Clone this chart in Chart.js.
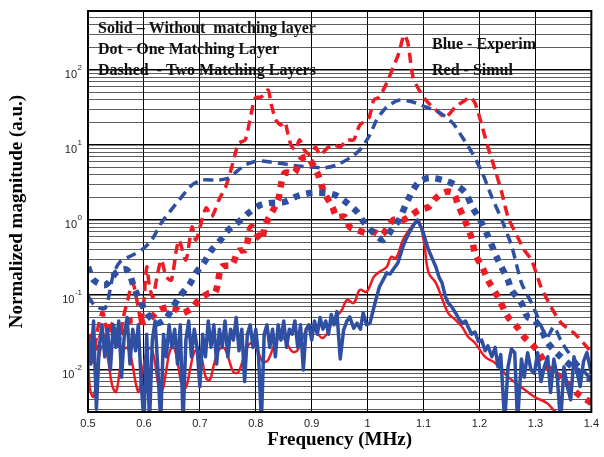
<!DOCTYPE html>
<html>
<head>
<meta charset="utf-8">
<script src="https://cdn.jsdelivr.net/npm/chart.js@4/dist/chart.umd.min.js"></script>
<style>
  html, body { margin: 0; padding: 0; background: #fff; }
</style>
</head>
<body>
<canvas id="spectrum" width="604" height="457"></canvas>
<script>
// ---- data (frequency in MHz, normalized magnitude) ----
const xTicks = [0.5, 0.6, 0.7, 0.8, 0.9, 1.0, 1.1, 1.2, 1.3, 1.4];
const xTickLabels = ['0.5', '0.6', '0.7', '0.8', '0.9', '1', '1.1', '1.2', '1.3', '1.4'];
const yExponents = [-3, -2, -1, 0, 1, 2];
const yLabelExponents = [-2, -1, 0, 1, 2];
const yFactors = [1, 2, 3, 4, 5, 6, 7, 8, 9];

// Solid - without matching layer, experiment (blue)
const blueSolidX = [
    0.500, 0.505, 0.510, 0.515, 0.520, 0.525, 0.530, 0.535, 0.540, 0.545,
    0.550, 0.555, 0.560, 0.565, 0.570, 0.575, 0.580, 0.585, 0.590, 0.595,
    0.600, 0.605, 0.610, 0.615, 0.620, 0.625, 0.630, 0.635, 0.640, 0.645,
    0.650, 0.655, 0.660, 0.665, 0.670, 0.675, 0.680, 0.685, 0.690, 0.695,
    0.700, 0.705, 0.710, 0.715, 0.720, 0.725, 0.730, 0.735, 0.740, 0.745,
    0.750, 0.755, 0.760, 0.765, 0.770, 0.775, 0.780, 0.785, 0.790, 0.795,
    0.800, 0.805, 0.810, 0.815, 0.820, 0.825, 0.830, 0.835, 0.840, 0.845,
    0.850, 0.855, 0.860, 0.865, 0.870, 0.875, 0.880, 0.885, 0.890, 0.895,
    0.900, 0.905, 0.910, 0.915, 0.920, 0.925, 0.930, 0.935, 0.940, 0.945,
    0.951, 0.957, 0.963, 0.968, 0.975, 0.981, 0.987, 0.992, 0.998, 1.004,
    1.010, 1.016, 1.021, 1.028, 1.034, 1.040, 1.045, 1.054, 1.063, 1.068,
    1.074, 1.082, 1.089, 1.098, 1.104, 1.109, 1.116, 1.122, 1.128, 1.133,
    1.139, 1.144, 1.150, 1.157, 1.163, 1.169, 1.175, 1.180, 1.186, 1.192,
    1.198, 1.204, 1.210, 1.215, 1.222, 1.228, 1.233, 1.238, 1.245, 1.251,
    1.257, 1.263, 1.268, 1.275, 1.280, 1.286, 1.292, 1.298, 1.304, 1.310,
    1.316, 1.322, 1.327, 1.333, 1.339, 1.345, 1.351, 1.357, 1.363, 1.369,
    1.375, 1.380, 1.386, 1.392, 1.400
];
const blueSolidY = [
    0.030, 0.012, 0.045, 0.003, 0.020, 0.040, 0.015, 0.035, 0.010, 0.040,
    0.020, 0.045, 0.008, 0.030, 0.050, 0.012, 0.035, 0.018, 0.040, 0.007,
    0.002, 0.030, 0.002, 0.025, 0.045, 0.010, 0.002, 0.030, 0.015, 0.040,
    0.020, 0.035, 0.012, 0.040, 0.002, 0.025, 0.045, 0.015, 0.035, 0.020,
    0.006, 0.030, 0.015, 0.045, 0.020, 0.040, 0.012, 0.035, 0.020, 0.045,
    0.015, 0.035, 0.025, 0.050, 0.018, 0.035, 0.007, 0.030, 0.040, 0.020,
    0.035, 0.015, 0.002, 0.030, 0.040, 0.020, 0.035, 0.015, 0.040, 0.025,
    0.045, 0.020, 0.035, 0.030, 0.045, 0.020, 0.040, 0.010, 0.035, 0.040,
    0.025, 0.045, 0.030, 0.050, 0.035, 0.045, 0.030, 0.055, 0.040, 0.060,
    0.014, 0.034, 0.045, 0.051, 0.036, 0.042, 0.035, 0.058, 0.040, 0.042,
    0.063, 0.094, 0.128, 0.160, 0.197, 0.190, 0.215, 0.267, 0.437, 0.540,
    0.671, 0.850, 1.000, 0.736, 0.520, 0.398, 0.300, 0.236, 0.170, 0.145,
    0.095, 0.078, 0.070, 0.058, 0.048, 0.042, 0.045, 0.037, 0.030, 0.032,
    0.024, 0.025, 0.018, 0.021, 0.015, 0.020, 0.011, 0.016, 0.002, 0.011,
    0.019, 0.017, 0.002, 0.014, 0.008, 0.017, 0.010, 0.009, 0.017, 0.007,
    0.011, 0.015, 0.005, 0.014, 0.008, 0.002, 0.011, 0.006, 0.004, 0.015,
    0.009, 0.006, 0.013, 0.017, 0.009
];

// Solid - without matching layer, simulation (red)
const redSolidX = [
    0.500, 0.504, 0.510, 0.517, 0.522, 0.529, 0.536, 0.543, 0.550, 0.557,
    0.564, 0.571, 0.578, 0.586, 0.591, 0.598, 0.605, 0.612, 0.619, 0.626,
    0.633, 0.640, 0.647, 0.654, 0.661, 0.668, 0.675, 0.683, 0.690, 0.697,
    0.704, 0.711, 0.718, 0.725, 0.734, 0.743, 0.751, 0.760, 0.769, 0.778,
    0.787, 0.795, 0.804, 0.813, 0.822, 0.831, 0.840, 0.848, 0.857, 0.866,
    0.875, 0.884, 0.892, 0.901, 0.910, 0.919, 0.928, 0.937, 0.945, 0.954,
    0.963, 0.975, 0.986, 0.998, 1.011, 1.021, 1.034, 1.042, 1.051, 1.063,
    1.074, 1.086, 1.092, 1.101, 1.109, 1.122, 1.134, 1.144, 1.157, 1.169,
    1.180, 1.192, 1.210, 1.228, 1.251, 1.275, 1.298, 1.321, 1.333, 1.345,
    1.369
];
const redSolidY = [
    0.0136, 0.0054, 0.0044, 0.0100, 0.0185, 0.0215, 0.0136, 0.0063, 0.0051, 0.0100,
    0.0185, 0.0197, 0.0136, 0.0063, 0.0051, 0.0100, 0.0174, 0.0197, 0.0136, 0.0063,
    0.0054, 0.0100, 0.0185, 0.0197, 0.0117, 0.0063, 0.0058, 0.0106, 0.0174, 0.0185,
    0.0136, 0.0078, 0.0074, 0.0117, 0.0185, 0.0197, 0.0145, 0.0094, 0.0094, 0.0145,
    0.0215, 0.0229, 0.0174, 0.0128, 0.0136, 0.0197, 0.0267, 0.0275, 0.0215, 0.0174,
    0.0185, 0.0267, 0.0363, 0.0386, 0.0311, 0.0267, 0.0311, 0.0437, 0.0525, 0.0630,
    0.0858, 0.0780, 0.117, 0.110, 0.174, 0.203, 0.236, 0.321, 0.311, 0.541,
    0.736, 0.940, 0.970, 0.494, 0.197, 0.145, 0.0858, 0.0575, 0.0464, 0.0374,
    0.0275, 0.0229, 0.0149, 0.0124, 0.0081, 0.0059, 0.0044, 0.0036, 0.0029, 0.0025,
    0.0019
];

// Dot - one matching layer, experiment (blue)
const blueDotX = [
    0.500, 0.510, 0.531, 0.552, 0.570, 0.584, 0.605, 0.623, 0.637, 0.646,
    0.663, 0.681, 0.693, 0.707, 0.721, 0.737, 0.751, 0.769, 0.787, 0.808,
    0.827, 0.852, 0.875, 0.898, 0.922, 0.942, 0.963, 0.981, 0.993, 1.011,
    1.028, 1.046, 1.056, 1.072, 1.090, 1.109, 1.134, 1.157, 1.175, 1.187,
    1.201, 1.215, 1.233, 1.251, 1.257, 1.275, 1.286, 1.298, 1.311, 1.321,
    1.342, 1.369, 1.400
];
const blueDotY = [
    0.236, 0.158, 0.136, 0.203, 0.215, 0.117, 0.0575, 0.0423, 0.0464, 0.0575,
    0.094, 0.136, 0.197, 0.267, 0.398, 0.541, 0.736, 0.94, 1.24, 1.58,
    1.69, 1.74, 2.09, 2.29, 2.29, 2.15, 1.69, 1.28, 0.94, 0.671,
    0.541, 0.807, 1.0, 1.85, 3.11, 3.63, 3.41, 2.93, 2.29, 1.49,
    1.0, 0.612, 0.293, 0.158, 0.117, 0.078, 0.0509, 0.0464, 0.0341, 0.0236,
    0.0158, 0.0106, 0.0074
];

// Dot - one matching layer, simulation (red)
const redDotX = [
    0.500, 0.513, 0.531, 0.545, 0.557, 0.570, 0.580, 0.603, 0.628, 0.651,
    0.668, 0.686, 0.698, 0.716, 0.728, 0.739, 0.757, 0.769, 0.781, 0.792,
    0.810, 0.817, 0.840, 0.845, 0.852, 0.869, 0.880, 0.892, 0.910, 0.922,
    0.937, 0.945, 0.959, 0.968, 0.981, 0.998, 1.011, 1.025, 1.046, 1.063,
    1.074, 1.092, 1.109, 1.122, 1.139, 1.153, 1.162, 1.175, 1.187, 1.192,
    1.205, 1.215, 1.233, 1.251, 1.267, 1.280, 1.298, 1.311, 1.321, 1.339,
    1.356, 1.374, 1.392, 1.400
];
const redDotY = [
    0.0293, 0.0197, 0.0341, 0.0374, 0.0251, 0.0423, 0.0464, 0.0437, 0.0631, 0.0692,
    0.0575, 0.0671, 0.0858, 0.106, 0.110, 0.236, 0.251, 0.386, 0.398, 0.807,
    0.541, 0.858, 1.85, 2.93, 4.24, 4.24, 6.31, 6.92, 4.24, 2.36,
    1.49, 1.10, 1.10, 0.807, 0.736, 0.671, 0.692, 0.631, 1.0, 1.0,
    1.10, 1.36, 1.49, 1.96, 2.36, 2.29, 1.58, 0.94, 0.541, 0.352,
    0.236, 0.158, 0.094, 0.0509, 0.0374, 0.0275, 0.0203, 0.0149, 0.0110, 0.00858,
    0.00671, 0.00493, 0.00398, 0.00363
];

// Dashed - two matching layers, experiment (blue)
const blueDashX = [
    0.500, 0.513, 0.531, 0.545, 0.557, 0.580, 0.596, 0.614, 0.631, 0.646,
    0.663, 0.686, 0.704, 0.734, 0.751, 0.769, 0.781, 0.804, 0.827, 0.852,
    0.875, 0.898, 0.922, 0.945, 0.968, 0.986, 1.004, 1.016, 1.034, 1.057,
    1.081, 1.104, 1.127, 1.152, 1.169, 1.187, 1.205, 1.222, 1.240, 1.258,
    1.275, 1.293, 1.304, 1.311, 1.321, 1.333, 1.345, 1.356, 1.377, 1.400
];
const blueDashY = [
    0.097, 0.071, 0.067, 0.185, 0.275, 0.341, 0.398, 0.541, 0.912, 1.28,
    1.85, 2.93, 3.41, 3.41, 3.63, 4.64, 5.41, 6.12, 5.93, 5.58,
    5.25, 5.09, 4.94, 5.41, 6.71, 8.58, 13.6, 21.5, 32.1, 39.8,
    37.4, 32.1, 27.5, 19.7, 12.8, 7.82, 4.24, 2.03, 1.00, 0.437,
    0.145, 0.0782, 0.0509, 0.0374, 0.0275, 0.0374, 0.0251, 0.0185, 0.0117, 0.0074
];

// Dashed - two matching layers, simulation (red)
const redDashX = [
    0.500, 0.508, 0.517, 0.526, 0.536, 0.545, 0.554, 0.563, 0.571, 0.580,
    0.589, 0.596, 0.605, 0.610, 0.616, 0.624, 0.631, 0.640, 0.649, 0.658,
    0.663, 0.675, 0.686, 0.693, 0.711, 0.721, 0.734, 0.746, 0.757, 0.765,
    0.769, 0.781, 0.792, 0.799, 0.810, 0.822, 0.827, 0.836, 0.845, 0.852,
    0.857, 0.863, 0.871, 0.878, 0.887, 0.898, 0.907, 0.915, 0.928, 0.940,
    0.951, 0.963, 0.975, 0.986, 1.002, 1.011, 1.021, 1.034, 1.046, 1.056,
    1.065, 1.072, 1.081, 1.092, 1.104, 1.122, 1.139, 1.157, 1.175, 1.183,
    1.192, 1.205, 1.215, 1.228, 1.240, 1.251, 1.268, 1.280, 1.293, 1.310,
    1.328, 1.346, 1.369, 1.392, 1.400
];
const redDashY = [
    0.0215, 0.0128, 0.0341, 0.0593, 0.0293, 0.0437, 0.0215, 0.0493, 0.0858, 0.145,
    0.0736, 0.0398, 0.236, 0.128, 0.094, 0.185, 0.293, 0.174, 0.158, 0.398,
    0.541, 0.293, 0.807, 0.541, 1.45, 1.10, 1.85, 2.75, 5.09, 8.58,
    10.6, 11.7, 26.7, 42.4, 43.7, 54.1, 36.3, 21.5, 18.5, 20.3,
    14.5, 10.0, 8.58, 11.7, 8.58, 7.36, 9.4, 7.36, 9.12, 10.0,
    9.4, 11.7, 11.7, 18.5, 22.9, 39.8, 43.7, 67.1, 110, 169,
    293, 229, 80.7, 54.1, 39.8, 29.3, 23.6, 32.1, 39.8, 43.7,
    36.3, 17.4, 9.4, 4.64, 2.29, 1.10, 0.593, 0.398, 0.293, 0.128,
    0.0692, 0.0423, 0.0311, 0.0203, 0.0169
];

const notesLeft = ['Solid \u2013 Without  matching layer', 'Dot - One Matching Layer', 'Dashed  - Two Matching Layers'];
const notesRight = ['Blue - Experim', 'Red - Simul'];

// ---- chart ----
const RED = '#ED1C24';
const BLUE = '#2F4FA2';
const Y_MIN = 0.00275;
const Y_MAX = 612;

function points(xs, ys) {
    return xs.map((x, i) => ({ x: x, y: ys[i] }));
}

function isDecade(v) {
    const l = Math.log10(v);
    return Math.abs(l - Math.round(l)) < 1e-6;
}

const yTickValues = [];
yExponents.forEach(e => {
    yFactors.forEach(f => {
        const v = parseFloat((f * Math.pow(10, e)).toPrecision(3));
        if (v >= Y_MIN && v <= Y_MAX) yTickValues.push(v);
    });
});

const solid = { borderDash: [], tension: 0, borderJoinStyle: 'round' };
const dotted = { borderWidth: 6.5, borderDash: [6.5, 6.5], borderCapStyle: 'butt', tension: 0.3 };
const dashed = { borderWidth: 3.5, borderDash: [10, 6], borderCapStyle: 'butt', tension: 0.25 };

const datasets = [
    Object.assign({ label: 'Solid experim', data: points(blueSolidX, blueSolidY), borderColor: BLUE, borderWidth: 3.5 }, solid),
    Object.assign({ label: 'Solid simul', data: points(redSolidX, redSolidY), borderColor: RED, borderWidth: 2.5 }, solid, { tension: 0.4 }),
    Object.assign({ label: 'Dot experim', data: points(blueDotX, blueDotY), borderColor: BLUE }, dotted),
    Object.assign({ label: 'Dot simul', data: points(redDotX, redDotY), borderColor: RED }, dotted),
    Object.assign({ label: 'Dashed experim', data: points(blueDashX, blueDashY), borderColor: BLUE }, dashed),
    Object.assign({ label: 'Dashed simul', data: points(redDashX, redDashY), borderColor: RED }, dashed)
];
datasets.forEach(d => { d.pointRadius = 0; d.fill = false; d.clip = 0; });

const framePlugin = {
    id: 'frameAndNotes',
    afterDraw(chart) {
        const ctx = chart.ctx;
        const a = chart.chartArea;
        const yScale = chart.scales.y;
        ctx.save();

        // plot frame
        ctx.strokeStyle = '#000';
        ctx.lineWidth = 2;
        ctx.strokeRect(a.left, a.top, a.right - a.left, a.bottom - a.top);

        // y decade labels like 10^2
        ctx.fillStyle = '#222';
        yLabelExponents.forEach(e => {
            const py = yScale.getPixelForValue(Math.pow(10, e));
            const exp = String(e);
            ctx.font = '8px "Liberation Sans", Arial, sans-serif';
            const expW = ctx.measureText(exp).width;
            const right = a.left - 6;
            ctx.textBaseline = 'middle';
            ctx.textAlign = 'left';
            ctx.fillText(exp, right - expW, py - 2);
            ctx.font = '11px "Liberation Sans", Arial, sans-serif';
            ctx.textAlign = 'right';
            ctx.fillText('10', right - expW - 0.5, py + 5);
        });

        // notes
        ctx.fillStyle = '#111';
        ctx.font = 'bold 16px "Liberation Serif", "Times New Roman", serif';
        ctx.textAlign = 'left';
        ctx.textBaseline = 'middle';
        notesLeft.forEach((t, i) => ctx.fillText(t, a.left + 10, a.top + 18 + i * 21));
        notesRight.forEach((t, i) => ctx.fillText(t, a.left + 344, a.top + 34 + i * 26));
        ctx.restore();
    }
};

new Chart(document.getElementById('spectrum'), {
    type: 'line',
    data: { datasets: datasets },
    options: {
        responsive: false,
        animation: false,
        layout: { padding: { left: 0, right: 6, top: 11, bottom: 0 } },
        plugins: {
            legend: { display: false },
            tooltip: { enabled: false }
        },
        scales: {
            x: {
                type: 'linear',
                min: 0.5,
                max: 1.4,
                afterBuildTicks: scale => { scale.ticks = xTicks.map(v => ({ value: v })); },
                afterFit: scale => { scale.height = 45; },
                border: { display: false },
                grid: { color: '#000', lineWidth: 1, drawTicks: false },
                ticks: {
                    padding: 5,
                    color: '#222',
                    font: { family: '"Liberation Sans", Arial, sans-serif', size: 11 },
                    callback: (v, i) => xTickLabels[i]
                },
                title: {
                    display: true,
                    text: 'Frequency (MHz)',
                    color: '#000',
                    font: { family: '"Liberation Serif", "Times New Roman", serif', size: 19, weight: 'bold' },
                    padding: { top: 0, bottom: 6 }
                }
            },
            y: {
                type: 'logarithmic',
                min: Y_MIN,
                max: Y_MAX,
                afterBuildTicks: scale => { scale.ticks = yTickValues.map(v => ({ value: v, major: isDecade(v) })); },
                afterFit: scale => { scale.width = 88; },
                border: { display: false },
                grid: {
                    color: ctx => isDecade(ctx.tick.value) ? '#000' : '#333',
                    lineWidth: ctx => isDecade(ctx.tick.value) ? 1.5 : 0.8,
                    drawTicks: false
                },
                ticks: { display: false },
                title: {
                    display: true,
                    text: 'Normalized magnitude (a.u.)',
                    color: '#000',
                    font: { family: '"Liberation Serif", "Times New Roman", serif', size: 19, weight: 'bold' },
                    padding: { top: 6, bottom: 0 }
                }
            }
        }
    },
    plugins: [framePlugin]
});
</script>
</body>
</html>
